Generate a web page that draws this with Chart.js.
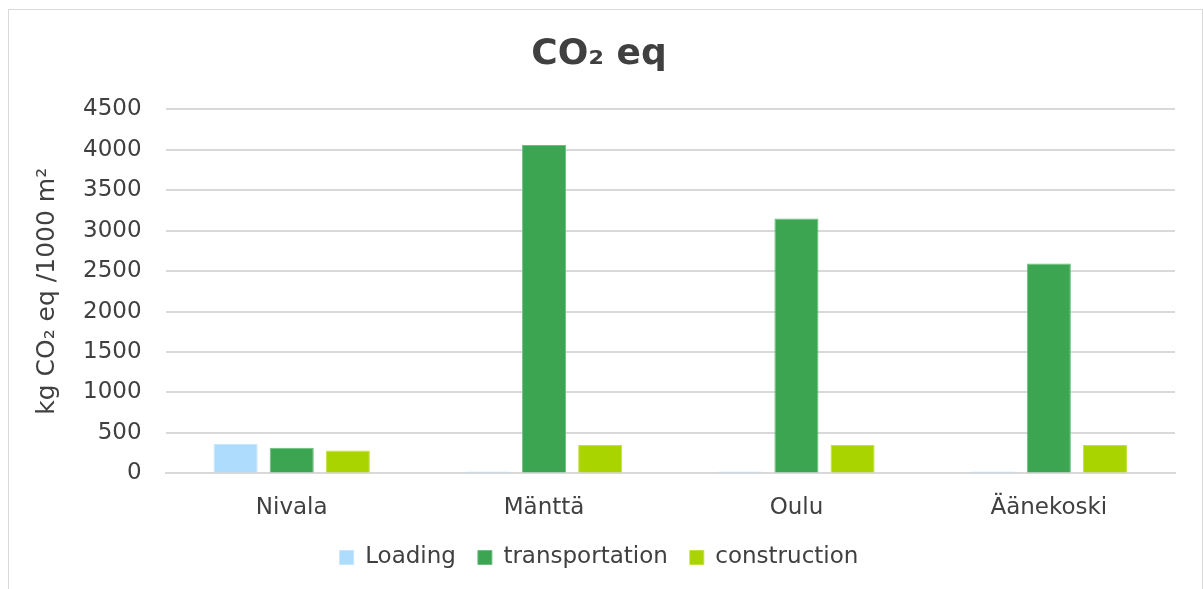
<!DOCTYPE html>
<html>
<head>
<meta charset="utf-8">
<script src="https://cdn.jsdelivr.net/npm/chart.js@4/dist/chart.umd.min.js"></script>
<style>
  html, body { margin: 0; padding: 0; background: #fff; }
  #frame { position: absolute; left: 8px; top: 9px; width: 1193px; height: 620px; border: 1px solid #d9d9d9; }
  #wrap { position: absolute; left: 0; top: 0; width: 1203px; height: 589px; }
</style>
</head>
<body>
<div id="frame"></div>
<div id="wrap"><canvas id="co2Chart" width="1203" height="589"></canvas></div>
<script>
// categories and series
const sites = ['Nivala', 'Mänttä', 'Oulu', 'Äänekoski'];
const loading = [365, 25, 25, 25];
const transportation = [318, 4058, 3150, 2595];
const construction = [283, 352, 352, 352];
const yTicks = [0, 500, 1000, 1500, 2000, 2500, 3000, 3500, 4000, 4500];

const textColor = '#404040';
const fontFamily = '"DejaVu Sans", Verdana, sans-serif';

Chart.defaults.font.family = fontFamily;
Chart.defaults.color = textColor;

new Chart(document.getElementById('co2Chart'), {
  type: 'bar',
  data: {
    labels: sites,
    datasets: [
      { label: 'Loading', data: loading, backgroundColor: '#addcfd', borderColor: '#c4e6fd', borderWidth: 1 },
      { label: 'transportation', data: transportation, backgroundColor: '#3ba552', borderColor: '#6cbd7e', borderWidth: 1 },
      { label: 'construction', data: construction, backgroundColor: '#aad400', borderColor: '#c2e040', borderWidth: 1 }
    ]
  },
  options: {
    responsive: false,
    animation: false,
    devicePixelRatio: 1,
    layout: { padding: { left: 23, right: 28, top: 33, bottom: 10 } },
    datasets: { bar: { categoryPercentage: 0.667, barPercentage: 0.786 } },
    plugins: {
      title: {
        display: true,
        text: 'CO₂ eq',
        font: { size: 36, weight: 'bold' },
        color: textColor,
        padding: { top: 0, bottom: 33 }
      },
      legend: {
        position: 'bottom',
        labels: { boxWidth: 14, boxHeight: 14, padding: 22, font: { size: 23 }, color: textColor }
      },
      tooltip: { enabled: false }
    },
    scales: {
      x: {
        grid: { display: false },
        border: { color: '#d9d9d9', width: 2 },
        ticks: { font: { size: 23 }, color: textColor, padding: 13 },
        afterFit: (axis) => { axis.height -= 11; }
      },
      y: {
        min: 0,
        max: 4500,
        afterBuildTicks: (axis) => { axis.ticks = yTicks.map(v => ({ value: v })); },
        grid: { color: '#d9d9d9', lineWidth: 2, drawTicks: false },
        border: { display: false },
        ticks: { font: { size: 23 }, color: textColor, padding: 24, callback: (v) => String(v) },
        title: {
          display: true,
          text: 'kg CO₂ eq /1000 m²',
          font: { size: 25 },
          color: textColor,
          padding: { top: 9, bottom: -3 }
        }
      }
    }
  }
});
</script>
</body>
</html>
